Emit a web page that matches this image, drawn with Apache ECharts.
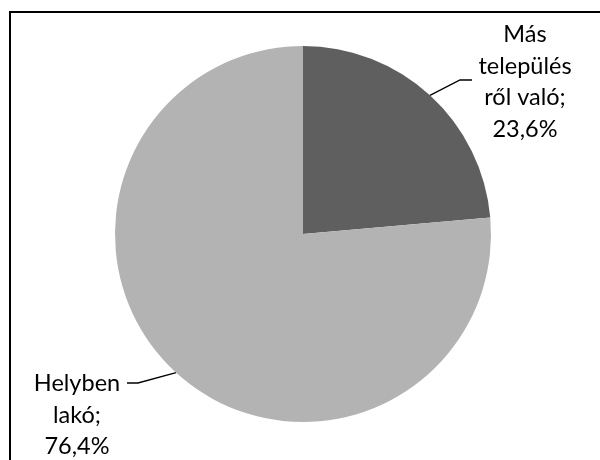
<!DOCTYPE html>
<html>
<head>
<meta charset="utf-8">
<script src="https://cdn.jsdelivr.net/npm/echarts@6/dist/echarts.min.js"></script>
<style>html,body{margin:0;padding:0;background:#fff;}#c{width:600px;height:460px;}</style>
</head>
<body>
<div id="c"></div>
<script>
var categories = ['Más\ntelepülés\nről való', 'Helyben\nlakó'];
var values = [23.6, 76.4];
var colors = ['#5f5f5f', '#b3b3b3'];

var chart = echarts.init(document.getElementById('c'), null, {renderer: 'canvas'});
var labelPos = [
  {x: 525, y: 82, elbow: [460, 80], end: [472, 80]},
  {x: 77, y: 415, elbow: [138, 383], end: [127, 383]}
];
chart.setOption({
  animation: false,
  backgroundColor: '#fff',
  graphic: [{
    type: 'rect', shape: {x: 10, y: 12, width: 700, height: 600},
    style: {fill: 'none', stroke: '#000', lineWidth: 2}, z: 100
  }],
  series: [{
    type: 'pie',
    center: [303, 234],
    radius: [0, 188],
    startAngle: 90,
    clockwise: true,
    data: categories.map(function (c, i) {
      return {name: c, value: values[i], itemStyle: {color: colors[i]}};
    }),
    itemStyle: {borderWidth: 0},
    label: {
      show: true,
      formatter: function (p) { return p.name + ';\n' + p.value.toFixed(1).replace('.', ',') + '%'; },
      fontFamily: 'Lato',
      fontSize: 23.5,
      lineHeight: 31.5,
      color: '#000',
      align: 'center'
    },
    labelLine: {show: true, lineStyle: {color: '#000', width: 1.3}, length: 10, length2: 10},
    labelLayout: function (params) {
      var lp = labelPos[params.dataIndex];
      var start = params.labelLinePoints ? params.labelLinePoints[0] : lp.elbow;
      return {
        x: lp.x, y: lp.y, align: 'center', verticalAlign: 'middle',
        labelLinePoints: [start, lp.elbow, lp.end]
      };
    },
    emphasis: {disabled: true}
  }]
});
</script>
</body>
</html>
